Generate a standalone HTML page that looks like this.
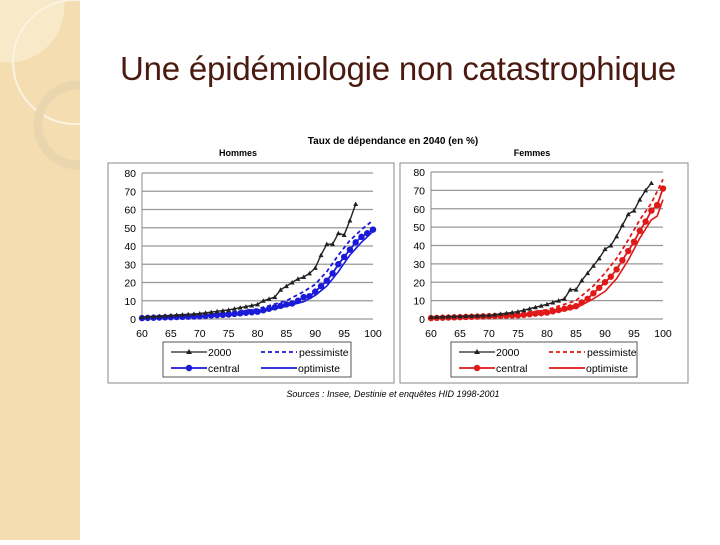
<!DOCTYPE html>
<html><head><meta charset="utf-8"><style>
body{margin:0;width:720px;height:540px;background:#fff;position:relative;overflow:hidden;font-family:"Liberation Sans",sans-serif}
#strip{position:absolute;left:0;top:0;width:80px;height:540px;background:#f4ddb0}
h1{position:absolute;left:120px;top:50px;margin:0;font-weight:normal;font-size:33px;color:#4a1a10;font-family:"Liberation Sans",sans-serif;letter-spacing:-0.2px}
</style></head><body>
<div id="strip"><svg width="80" height="540">
<path d="M0,0 H64 A56,56 0 0 1 0,62 Z" fill="#f8e9c8"/>
<circle cx="75" cy="62" r="62" fill="none" stroke="#fbf3e2" stroke-width="2"/>
<circle cx="78" cy="125" r="40" fill="none" stroke="#e9d6ae" stroke-width="9"/>
</svg></div>
<h1>Une épidémiologie non catastrophique</h1>
<svg id="c" width="720" height="540" style="position:absolute;left:0;top:0"></svg>
<script>
const S=document.getElementById('c');let h='';
h+=`<text x="393" y="144" font-size="10" font-weight="bold" text-anchor="middle" font-family="Liberation Sans">Taux de dépendance en 2040 (en %)</text>`;
h+=`<text x="393" y="397" font-size="9" font-style="italic" text-anchor="middle" font-family="Liberation Sans">Sources : Insee, Destinie et enquêtes HID 1998-2001</text>`;
function interp(k,a){let ks=Object.keys(k).map(Number).sort((x,y)=>x-y);if(a<ks[0]||a>ks[ks.length-1])return null;for(let i=0;i<ks.length-1;i++){if(a>=ks[i]&&a<=ks[i+1]){let t=(a-ks[i])/(ks[i+1]-ks[i]);return k[ks[i]]+(k[ks[i+1]]-k[ks[i]])*t;}}return k[ks[ks.length-1]];}
function chart(o){
 const X=a=>o.x0+(a-60)*(o.x1-o.x0)/40, Y=v=>o.y0-v*(o.y0-o.y80)/80;
 h+=`<rect x="${o.fx}" y="163" width="${o.fw}" height="220" fill="#fff" stroke="#888" stroke-width="1"/>`;
 h+=`<text x="${o.tx}" y="156" font-size="9" font-weight="bold" text-anchor="middle" font-family="Liberation Sans">${o.title}</text>`;
 for(let v=0;v<=80;v+=10){h+=`<line x1="${o.x0}" x2="${o.x1}" y1="${Y(v)}" y2="${Y(v)}" stroke="#999" stroke-width="1.3"/>`;
  h+=`<text x="${o.x0-6}" y="${Y(v)+4}" font-size="10.5" text-anchor="end" font-family="Liberation Sans">${v}</text>`;}
 h+=`<line x1="${o.x0}" x2="${o.x0}" y1="${o.y80}" y2="${o.y0}" stroke="#888"/>`;
 for(let a=60;a<=100;a+=5)h+=`<text x="${X(a)}" y="${o.y0+18}" font-size="10.5" text-anchor="middle" font-family="Liberation Sans">${a}</text>`;
 function line(k,col,dash,w,mark){let p=[];for(let a=60;a<=100;a++){let v=interp(k,a);if(v!=null)p.push([X(a),Y(v)]);}
  h+=`<polyline fill="none" stroke="${col}" stroke-width="${w}" ${dash?'stroke-dasharray="4,3"':''} points="${p.map(q=>q[0].toFixed(1)+','+q[1].toFixed(1)).join(' ')}"/>`;
  if(mark=='t')p.forEach(q=>h+=`<path d="M${q[0]-2.5},${q[1]+2} L${q[0]+2.5},${q[1]+2} L${q[0]},${q[1]-2.5}Z" fill="#222"/>`);
  if(mark=='c')p.forEach(q=>h+=`<circle cx="${q[0]}" cy="${q[1]}" r="3.2" fill="${col}"/>`);}
 line(o.pes,o.col,true,1.8);line(o.opt,o.col,false,1.6);line(o.cen,o.col,false,1.8,'c');line(o.k2000,'#222',false,1.4,'t');
 const lx=o.lx,ly=342;
 h+=`<rect x="${lx}" y="${ly}" width="${o.lw}" height="35" fill="#fff" stroke="#555"/>`;
 h+=`<line x1="${lx+8}" x2="${lx+44}" y1="${ly+10}" y2="${ly+10}" stroke="#222" stroke-width="1.3"/><path d="M${lx+23},${ly+12} L${lx+29},${ly+12} L${lx+26},${ly+7}Z" fill="#222"/>`;
 h+=`<text x="${lx+45}" y="${ly+14}" font-size="10.5" font-family="Liberation Sans">2000</text>`;
 h+=`<line x1="${lx+8}" x2="${lx+44}" y1="${ly+26}" y2="${ly+26}" stroke="${o.col}" stroke-width="1.8"/><circle cx="${lx+26}" cy="${ly+26}" r="3.2" fill="${o.col}"/>`;
 h+=`<text x="${lx+45}" y="${ly+30}" font-size="10.5" font-family="Liberation Sans">central</text>`;
 h+=`<line x1="${lx+98}" x2="${lx+134}" y1="${ly+10}" y2="${ly+10}" stroke="${o.col}" stroke-width="1.8" stroke-dasharray="4,3"/>`;
 h+=`<text x="${lx+136}" y="${ly+14}" font-size="10.5" font-family="Liberation Sans">pessimiste</text>`;
 h+=`<line x1="${lx+98}" x2="${lx+134}" y1="${ly+26}" y2="${ly+26}" stroke="${o.col}" stroke-width="1.8"/>`;
 h+=`<text x="${lx+135}" y="${ly+30}" font-size="10.5" font-family="Liberation Sans">optimiste</text>`;
}
chart({fx:108,fw:286,tx:238,title:'Hommes',x0:142,x1:373,y0:319,y80:173,col:'#1a1ad8',lx:163,lw:188,
 k2000:{60:1,65:2,70:3,75:5,80:8,81:10,82:11,83:12,84:16,85:18,86:20,87:22,88:23,89:25,90:28,91:35,92:41,93:41,94:47,95:46,96:54,97:63},
 cen:{60:0.5,70:1.5,75:2.5,80:4,85:8,86:8.5,87:10,88:12,89:12.5,90:15,91:18,92:21,93:25,94:30,95:34,96:38,97:42,98:45,99:47,100:49},
 pes:{60:0.7,70:2,75:3.5,80:5.5,85:10,88:15,90:19,92:26,94:35,96:43,98:49,100:54},
 opt:{60:0.4,70:1.2,75:2,80:3.5,85:7,88:9.5,90:13,92:18,94:26,96:35,98:42,100:48}});
chart({fx:400,fw:288,tx:532,title:'Femmes',x0:431,x1:663,y0:319,y80:172,col:'#e01818',lx:451,lw:186,
 k2000:{60:1,70:2,75:4,80:8,82:10,83:11,84:16,85:16,86:21,87:25,88:29,89:33,90:38,91:40,92:45,93:51,94:57,95:59,96:65,97:70,98:74},
 cen:{60:0.5,75:2,80:3.5,85:7,86:9,87:11,88:14,89:17,90:20,91:23,92:27,93:32,94:37,95:42,96:48,97:53,98:59,99:62,100:71},
 pes:{60:0.7,75:3,80:5,85:10,88:18,90:25,92:33,94:43,96:54,98:63,100:76},
 opt:{60:0.4,75:1.5,80:3,85:6,88:11,90:15,92:22,94:32,96:44,98:54,99:56,100:65}});
S.innerHTML=h;
</script>
</body></html>
